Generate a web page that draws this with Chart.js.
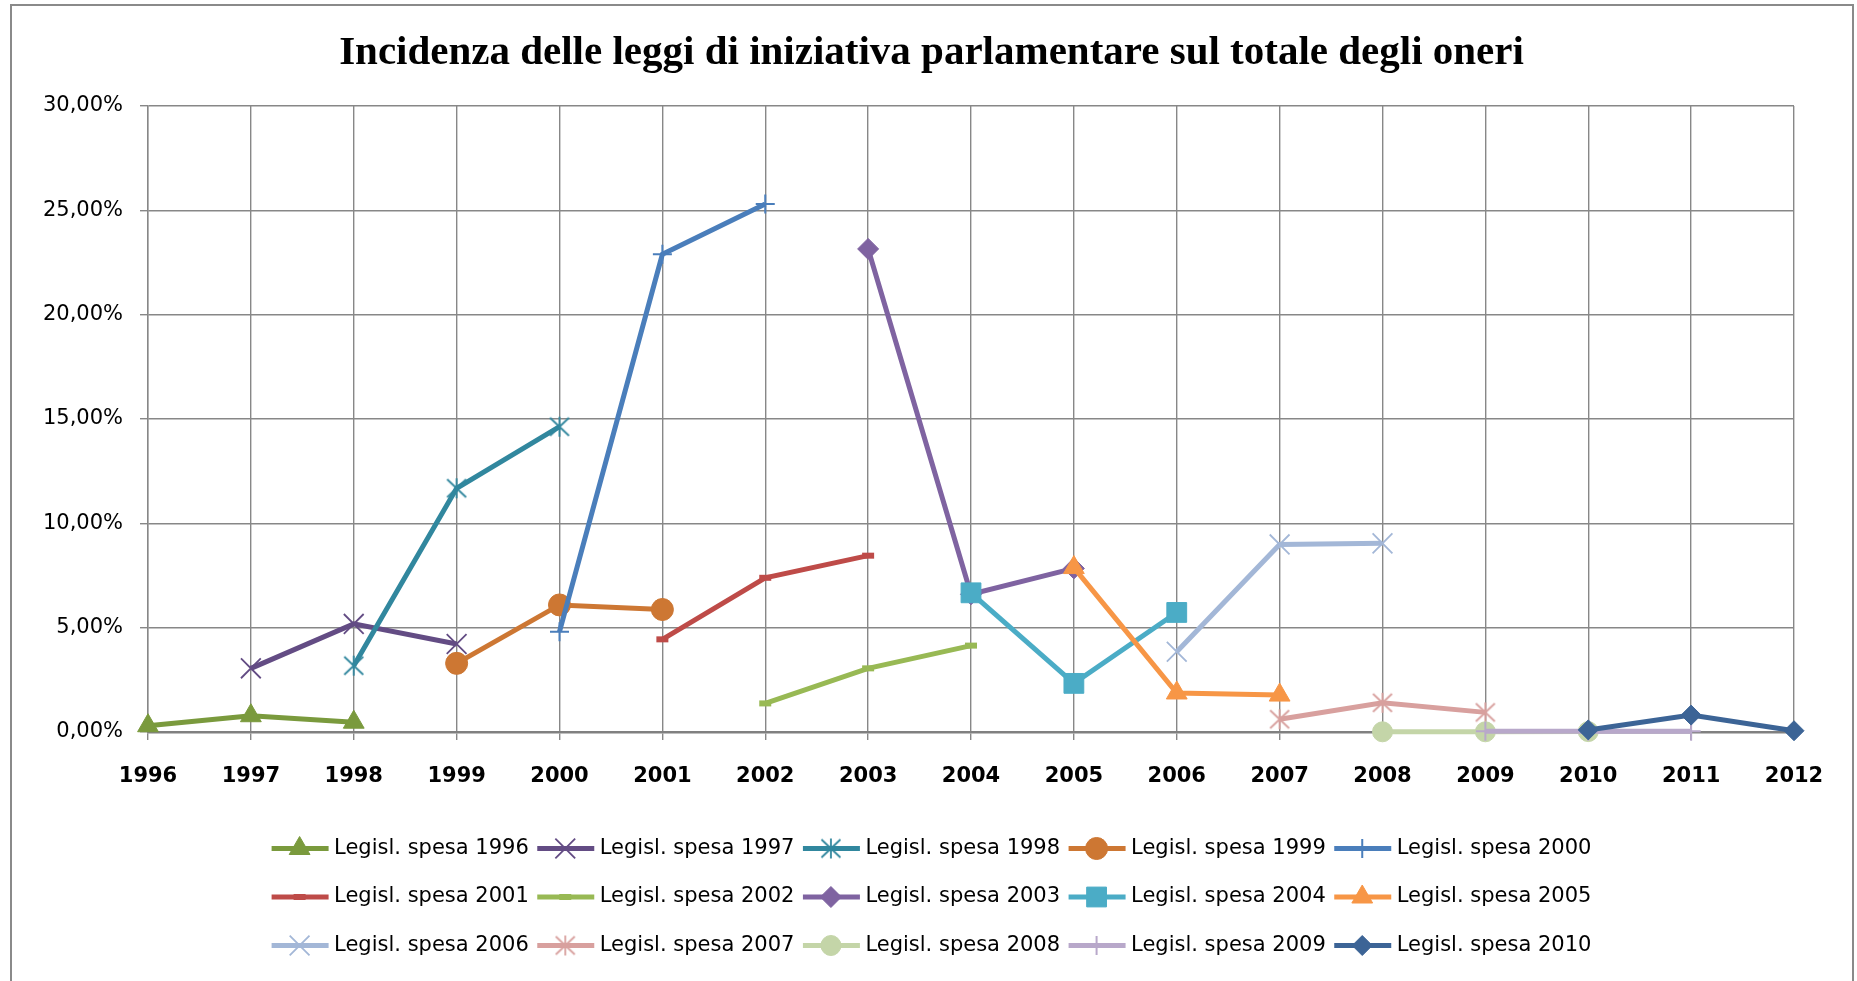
<!DOCTYPE html>
<html>
<head>
<meta charset="utf-8">
<script src="https://cdn.jsdelivr.net/npm/chart.js@4/dist/chart.umd.min.js"></script>
<style>
  html, body { margin: 0; padding: 0; background: #fff; }
  #wrap { width: 1857px; height: 981px; }
</style>
</head>
<body>
<div id="wrap"><canvas id="line-chart"></canvas></div>
<script>
// years on the x axis
const years = ['1996', '1997', '1998', '1999', '2000', '2001', '2002', '2003', '2004',
               '2005', '2006', '2007', '2008', '2009', '2010', '2011', '2012'];
const yTicks = [0, 5, 10, 15, 20, 25, 30]; // percent

// one array per legislature, values in percent, null where the series has no point
const spesa1996 = [0.30, 0.78, 0.47, null, null, null, null, null, null, null, null, null, null, null, null, null, null];
const spesa1997 = [null, 3.05, 5.18, 4.22, null, null, null, null, null, null, null, null, null, null, null, null, null];
const spesa1998 = [null, null, 3.18, 11.68, 14.63, null, null, null, null, null, null, null, null, null, null, null, null];
const spesa1999 = [null, null, null, 3.29, 6.09, 5.87, null, null, null, null, null, null, null, null, null, null, null];
const spesa2000 = [null, null, null, null, 4.81, 22.89, 25.30, null, null, null, null, null, null, null, null, null, null];
const spesa2001 = [null, null, null, null, null, 4.44, 7.39, 8.45, null, null, null, null, null, null, null, null, null];
const spesa2002 = [null, null, null, null, null, null, 1.37, 3.05, 4.14, null, null, null, null, null, null, null, null];
const spesa2003 = [null, null, null, null, null, null, null, 23.15, 6.60, 7.84, null, null, null, null, null, null, null];
const spesa2004 = [null, null, null, null, null, null, null, null, 6.67, 2.33, 5.73, null, null, null, null, null, null];
const spesa2005 = [null, null, null, null, null, null, null, null, null, 7.88, 1.87, 1.77, null, null, null, null, null];
const spesa2006 = [null, null, null, null, null, null, null, null, null, null, 3.85, 8.99, 9.04, null, null, null, null];
const spesa2007 = [null, null, null, null, null, null, null, null, null, null, null, 0.61, 1.40, 0.94, null, null, null];
const spesa2008 = [null, null, null, null, null, null, null, null, null, null, null, null, 0.01, 0.01, 0.02, null, null];
const spesa2009 = [null, null, null, null, null, null, null, null, null, null, null, null, null, 0.04, 0.03, 0.03, null];
const spesa2010 = [null, null, null, null, null, null, null, null, null, null, null, null, null, null, 0.10, 0.81, 0.06];

// excel-like asterisk marker (x with a vertical bar)
function asterisk(color) {
    const c = document.createElement('canvas');
    c.width = 24;
    c.height = 24;
    const g = c.getContext('2d');
    g.strokeStyle = color;
    g.lineWidth = 1.8;
    g.beginPath();
    g.moveTo(2.5, 3); g.lineTo(21.5, 21);
    g.moveTo(21.5, 3); g.lineTo(2.5, 21);
    g.moveTo(12, 2); g.lineTo(12, 22);
    g.stroke();
    return c;
}

function series(label, data, color, pointStyle, pointRadius, pointBorderWidth) {
    return {
        label,
        data,
        borderColor: color,
        backgroundColor: color,
        pointBackgroundColor: color,
        pointBorderColor: color,
        borderWidth: 5,
        pointStyle,
        pointRadius,
        pointHoverRadius: pointRadius,
        pointBorderWidth,
        tension: 0,
        spanGaps: false,
        clip: false,
    };
}

const datasets = [
    series('Legisl. spesa 1996', spesa1996, '#7A9A3D', 'triangle', 12, 1),
    series('Legisl. spesa 1997', spesa1997, '#634C84', 'crossRot', 14, 1.8),
    series('Legisl. spesa 1998', spesa1998, '#31879E', asterisk('#31879E'), 10, 1.8),
    series('Legisl. spesa 1999', spesa1999, '#CD7733', 'circle', 11, 1),
    series('Legisl. spesa 2000', spesa2000, '#4A7EBB', 'cross', 9.5, 2),
    series('Legisl. spesa 2001', spesa2001, '#BE4B48', 'line', 6, 6),
    series('Legisl. spesa 2002', spesa2002, '#98B954', 'line', 6, 6),
    series('Legisl. spesa 2003', spesa2003, '#7F63A1', 'rectRot', 10.5, 1),
    series('Legisl. spesa 2004', spesa2004, '#4BACC6', 'rect', 14, 1),
    series('Legisl. spesa 2005', spesa2005, '#F79646', 'triangle', 12, 1),
    series('Legisl. spesa 2006', spesa2006, '#A3B7D7', 'crossRot', 14, 1.8),
    series('Legisl. spesa 2007', spesa2007, '#D8A09E', asterisk('#D8A09E'), 10, 1.8),
    series('Legisl. spesa 2008', spesa2008, '#C4D5A8', 'circle', 10, 1),
    series('Legisl. spesa 2009', spesa2009, '#B8A8CA', 'cross', 9.5, 2),
    series('Legisl. spesa 2010', spesa2010, '#3C6496', 'rectRot', 10, 1),
];
// later legislatures are painted on top, like the original
datasets.forEach((ds, i) => { ds.order = datasets.length - 1 - i; });

const PAD_L = 30, PAD_R = 24, PAD_B = 5.5;
const PLOT_LEFT = 148, PLOT_RIGHT = 1794;
const LEGEND_WRAP = 1500; // width used to break the legend into rows of five

// white background and grey outer frame
const framePlugin = {
    id: 'frame',
    beforeDraw(chart) {
        const ctx = chart.ctx;
        ctx.save();
        ctx.fillStyle = '#fff';
        ctx.fillRect(0, 0, chart.width, chart.height);
        ctx.strokeStyle = '#8a8a8a';
        ctx.lineWidth = 2;
        ctx.strokeRect(11, 5, 1842, 1010);
        ctx.restore();
    },
};

// make the legend wrap after five entries
const legendRows = {
    id: 'legendRows',
    beforeUpdate(chart) {
        const lg = chart.legend;
        if (!lg || lg._rowsPatched) return;
        const orig = lg.update.bind(lg);
        lg.update = (w, h, m) => orig(Math.min(w, LEGEND_WRAP), h, m);
        lg._rowsPatched = true;
    },
};

// legend keys drawn as line + marker
const legendMarks = {
    id: 'legendMarks',
    afterDraw(chart) {
        const lg = chart.legend;
        const ctx = chart.ctx;
        lg.legendItems.forEach((item, i) => {
            const hb = lg.legendHitBoxes[i];
            const ds = chart.data.datasets[item.datasetIndex];
            const y = hb.top + hb.height / 2;
            const x0 = hb.left;
            ctx.save();
            ctx.strokeStyle = ds.borderColor;
            ctx.lineWidth = 5;
            ctx.beginPath();
            ctx.moveTo(x0, y);
            ctx.lineTo(x0 + 57, y);
            ctx.stroke();
            ctx.fillStyle = ds.pointBackgroundColor;
            ctx.strokeStyle = ds.pointBorderColor;
            ctx.lineWidth = ds.pointBorderWidth;
            Chart.helpers.drawPoint(ctx, {
                pointStyle: ds.pointStyle,
                radius: ds.pointRadius,
                borderWidth: ds.pointBorderWidth,
                rotation: 0,
            }, x0 + 28, y);
            ctx.restore();
        });
    },
};

const FONT = "'DejaVu Sans', sans-serif";

const config = {
    type: 'line',
    data: { labels: years, datasets },
    plugins: [framePlugin, legendRows, legendMarks],
    options: {
        responsive: true,
        maintainAspectRatio: false,
        animation: false,
        layout: { padding: { left: PAD_L, right: PAD_R, top: 0, bottom: PAD_B } },
        plugins: {
            tooltip: { enabled: false },
            title: {
                display: true,
                text: 'Incidenza delle leggi di iniziativa parlamentare sul totale degli oneri',
                color: '#000',
                font: { family: "'Liberation Serif', 'Times New Roman', serif", size: 41, weight: 'bold' },
                padding: { top: 29, bottom: 27.8 },
            },
            legend: {
                position: 'bottom',
                labels: {
                    color: '#000',
                    font: { family: FONT, size: 21 },
                    boxWidth: 52,
                    boxHeight: 40,
                    padding: 8.5,
                    sort: (a, b) => a.datasetIndex - b.datasetIndex,
                    generateLabels(chart) {
                        const items = Chart.defaults.plugins.legend.labels.generateLabels(chart);
                        return items.map(it => Object.assign(it, {
                            fillStyle: 'rgba(0,0,0,0)',
                            strokeStyle: 'rgba(0,0,0,0)',
                            lineWidth: 0,
                        }));
                    },
                },
            },
        },
        scales: {
            x: {
                offset: false,
                grid: { color: '#878787', lineWidth: 1.4, tickLength: 8, offset: false },
                border: { color: '#808080', width: 2.5 },
                ticks: {
                    color: '#000',
                    autoSkip: false,
                    maxRotation: 0,
                    padding: 23.9,
                    font: { family: FONT, size: 21, weight: 'bold' },
                },
                afterFit(scale) {
                    scale.height = 88;
                    scale.paddingRight = 1857 - PLOT_RIGHT;
                },
            },
            y: {
                min: 0,
                max: 30,
                grid: { color: '#878787', lineWidth: 1.4, tickLength: 8 },
                border: { color: '#878787', width: 1.4 },
                afterBuildTicks(scale) {
                    scale.ticks = yTicks.map(v => ({ value: v }));
                },
                ticks: {
                    color: '#000',
                    padding: 17,
                    font: { family: FONT, size: 21 },
                    callback: v => v.toFixed(2).replace('.', ',') + '%',
                },
                afterFit(scale) {
                    scale.width = PLOT_LEFT - PAD_L;
                },
            },
        },
    },
};

const lineChart = new Chart(document.getElementById('line-chart'), config);
</script>
</body>
</html>
